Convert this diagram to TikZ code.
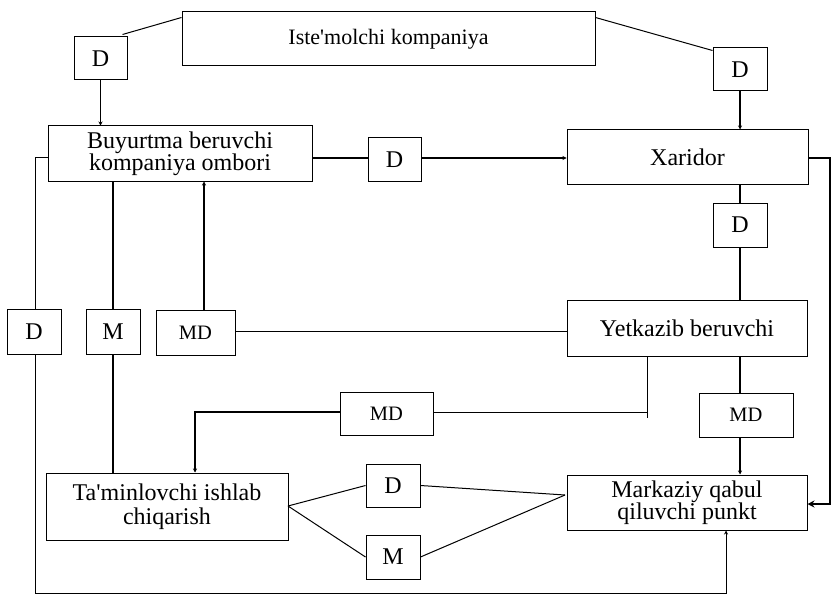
\documentclass[tikz,border=0pt]{standalone}
\usepackage{fontspec}
\setmainfont{Liberation Serif}
\usetikzlibrary{arrows.meta,calc}
\newcommand{\apo}{\textquotesingle}
\begin{document}
\begin{tikzpicture}[x=1pt,y=-1pt,
  bx/.style={draw,line width=1pt,inner sep=0pt,align=center,font=\fontsize{24}{22}\selectfont},
  sbx/.style={bx,minimum width=54pt,minimum height=44pt,font=\fontsize{24}{24}\selectfont},
  mdbx/.style={bx,minimum height=45pt,font=\fontsize{20.5}{22}\selectfont},
  conn/.style={line width=1.3pt},
  arr/.style={conn,-{Stealth[length=4pt,width=4pt]}},
  bigarr/.style={conn,-{Stealth[length=7pt,width=7pt]}}]
\useasboundingbox (0,0) rectangle (834,596);
% main boxes
\node[bx,minimum width=413pt,minimum height=54pt] (ist) at (388.5,39) {\fontsize{22}{24}\selectfont Iste\apo molchi kompaniya};
\node[bx,minimum width=264pt,minimum height=55pt] (buy) at (180,153.5) {Buyurtma beruvchi\\kompaniya ombori};
\node[bx,minimum width=241pt,minimum height=54pt] (xar) at (687.5,157) {Xaridor};
\node[bx,minimum width=240pt,minimum height=56pt] (yet) at (687,328) {Yetkazib beruvchi};
\node[bx,minimum width=242pt,minimum height=67pt,font=\fontsize{24}{24}\selectfont] (tam) at (167,506.5) {Ta\apo minlovchi ishlab\\chiqarish};
\node[bx,minimum width=240pt,minimum height=55pt] (mar) at (687,502.5) {Markaziy qabul\\qiluvchi punkt};
% small boxes
\node[sbx,minimum width=53pt,minimum height=43pt] (d1) at (100.5,58.5) {D};
\node[sbx,minimum height=43pt] (d2) at (740,69.5) {D};
\node[sbx,minimum width=53pt,minimum height=43pt] (dm) at (394.5,159.5) {D};
\node[sbx] (d3) at (740,225) {D};
\node[sbx,minimum height=45pt] (dl) at (34,331.5) {D};
\node[sbx,minimum height=45pt] (m1) at (113,331.5) {M};
\node[mdbx,minimum width=79pt] (md1) at (195.5,332.5) {MD};
\node[mdbx,minimum width=93pt,minimum height=43pt] (md2) at (386.5,413.5) {MD};
\node[mdbx,minimum width=94pt,minimum height=44pt] (md3) at (746,415) {MD};
\node[sbx,minimum height=43pt] (d4) at (393,485.5) {D};
\node[sbx] (m2) at (393,557) {M};
% coordinates
\coordinate (rc) at (830,158);
\coordinate (lc) at (35,158);
\coordinate (bl) at (35,593);
\coordinate (br) at (726,593);
\coordinate (yj) at (647,412);
\coordinate (yje) at (647,418);
\coordinate (mdl) at (195,412);
\coordinate (tj) at (288,506);
\coordinate (mj) at (565,495);
% connectors
\draw[conn,line width=1pt] ($(d1.north east)+(-5,-2)$) -- ($(ist.north west)+(0,6)$);
\draw[conn,line width=1pt] ($(ist.north east)+(0,6)$) -- ($(d2.north west)+(0,3)$);
\draw[arr] (d1.south) -- (d1.south |- buy.north);
\draw[arr] (d2.south) -- (d2.south |- xar.north);
\draw[conn] (buy.east |- 0,158) -- (dm.west |- 0,158);
\draw[arr] (dm.east |- 0,158) -- (xar.west |- 0,158);
\draw[bigarr] (xar.east |- rc) -- (rc) -- (rc |- 0,504) -- (mar.east |- 0,504);
\draw[conn] (d3.north |- xar.south) -- (d3.north);
\draw[conn] (d3.south) -- (d3.south |- yet.north);
\draw[conn,line width=1pt] (buy.west |- lc) -- (lc) -- (dl.north -| lc);
\draw[arr,line width=1pt] (dl.south -| bl) -- (bl) -- (br) -- (br |- mar.south);
\draw[conn] (m1.north |- buy.south) -- (m1.north);
\draw[conn] (m1.south) -- (m1.south |- tam.north);
\draw[arr] ($(md1.north)+(8.5,0)$) -- ($(md1.north |- buy.south)+(8.5,0)$);
\draw[conn,line width=1pt] (md1.east |- 0,331) -- (yet.west |- 0,331);
\draw[conn,line width=1pt] (yet.south -| yj) -- (yje);
\draw[conn,line width=1pt] (yj) -- (md2.east |- yj);
\draw[arr] (md2.west |- yj) -- (mdl) -- (mdl |- tam.north);
\draw[conn] (md3.north -| d3.south) -- (d3.south |- yet.south);
\draw[arr] (md3.south -| d3.south) -- (d3.south |- mar.north);
\draw[conn,line width=1pt] (tj) -- (d4.west);
\draw[conn,line width=1pt] (tj) -- (m2.west);
\draw[conn,line width=1pt] (d4.east) -- (mj);
\draw[conn,line width=1pt] (m2.east) -- (mj);
\end{tikzpicture}
\end{document}
